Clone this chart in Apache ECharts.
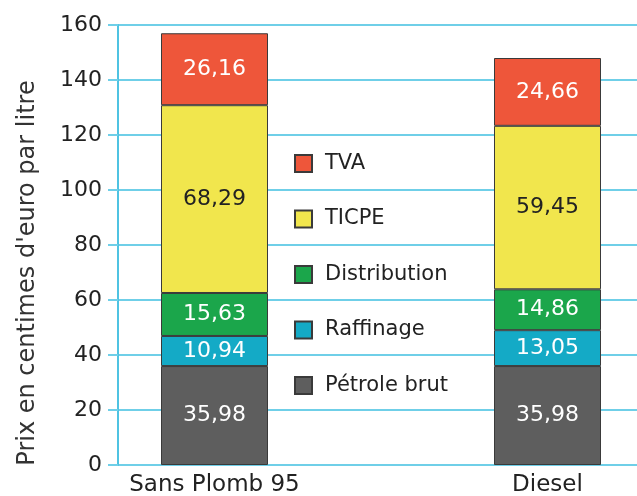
<!DOCTYPE html>
<html>
<head>
<meta charset="utf-8">
<script src="https://cdn.jsdelivr.net/npm/echarts@6/dist/echarts.min.js"></script>
<style>
  html, body { margin: 0; padding: 0; background: #ffffff; }
  #chart { width: 637px; height: 496px; }
</style>
</head>
<body>
<div id="chart"></div>
<script>
// Composition of the fuel price, in euro cents per litre
const categories = ['Sans Plomb 95', 'Diesel'];
const petroleBrut = [35.98, 35.98];
const raffinage = [10.94, 13.05];
const distribution = [15.63, 14.86];
const ticpe = [68.29, 59.45];
const tva = [26.16, 24.66];
const yTicks = [0, 20, 40, 60, 80, 100, 120, 140, 160];

const FONT = '"DejaVu Sans", Verdana, sans-serif';
const BLUE = '#6fcfe8';
const TOP = 25;
const BOTTOM = 31;

const fmt = p => p.value.toFixed(2).replace('.', ',');

function barSeries(name, values, color, labelColor) {
  return {
    name: name,
    type: 'bar',
    stack: 'prix',
    xAxisIndex: 1,
    yAxisIndex: 1,
    barWidth: 107,
    data: values,
    itemStyle: { color: color, borderColor: '#3a3a3a', borderWidth: 1 },
    label: {
      show: true,
      position: 'inside',
      formatter: fmt,
      color: labelColor,
      fontFamily: FONT,
      fontSize: 22
    },
    emphasis: { disabled: true }
  };
}

const chart = echarts.init(document.getElementById('chart'), null, { renderer: 'canvas' });

chart.setOption({
  animation: false,
  backgroundColor: '#ffffff',
  grid: [
    // frame grid: value axis, ticks and horizontal rules
    { left: 118, top: TOP, right: 0, bottom: BOTTOM, containLabel: false, outerBoundsMode: 'none' },
    // bar grid: wide category bands so the two bars land at their places
    { left: 48, top: TOP, width: 666, bottom: BOTTOM, containLabel: false, outerBoundsMode: 'none' }
  ],
  legend: {
    orient: 'vertical',
    left: 289,
    top: 148,
    itemWidth: 17,
    itemHeight: 17,
    itemGap: 34.5,
    selectedMode: false,
    icon: 'rect',
    data: ['TVA', 'TICPE', 'Distribution', 'Raffinage', 'Pétrole brut'],
    textStyle: { fontFamily: FONT, fontSize: 21, color: '#222', padding: [0, 0, 0, 8] }
  },
  xAxis: [
    { type: 'value', gridIndex: 0, show: false, min: 0, max: 1 },
    {
      type: 'category',
      gridIndex: 1,
      data: categories,
      axisLine: { show: false },
      axisTick: { show: false },
      splitLine: { show: false },
      axisLabel: {
        fontFamily: FONT,
        fontSize: 23,
        color: '#222',
        margin: 9
      }
    }
  ],
  yAxis: [
    {
      type: 'value',
      gridIndex: 0,
      min: 0,
      max: 160,
      interval: 20,
      name: "Prix en centimes d'euro par litre",
      nameLocation: 'middle',
      nameGap: 78,
      nameTextStyle: { fontFamily: FONT, fontSize: 24, color: '#333', padding: [0, 56, 0, 0] },
      axisLine: { show: true, onZero: false, lineStyle: { color: '#4fc3e2', width: 2 } },
      axisTick: { show: true, length: 10, lineStyle: { color: BLUE, width: 2 } },
      splitLine: { show: true, lineStyle: { color: BLUE, width: 2 } },
      axisLabel: {
        formatter: v => (yTicks.includes(v) ? String(v) : ''),
        fontFamily: FONT,
        fontSize: 22,
        color: '#222',
        margin: 16
      }
    },
    { type: 'value', gridIndex: 1, min: 0, max: 160, show: false, splitLine: { show: false } }
  ],
  series: [
    barSeries('Pétrole brut', petroleBrut, '#5e5e5e', '#ffffff'),
    barSeries('Raffinage', raffinage, '#14aac6', '#ffffff'),
    barSeries('Distribution', distribution, '#1ba64b', '#ffffff'),
    barSeries('TICPE', ticpe, '#f1e64d', '#222222'),
    barSeries('TVA', tva, '#ee563a', '#ffffff')
  ]
});
</script>
</body>
</html>
